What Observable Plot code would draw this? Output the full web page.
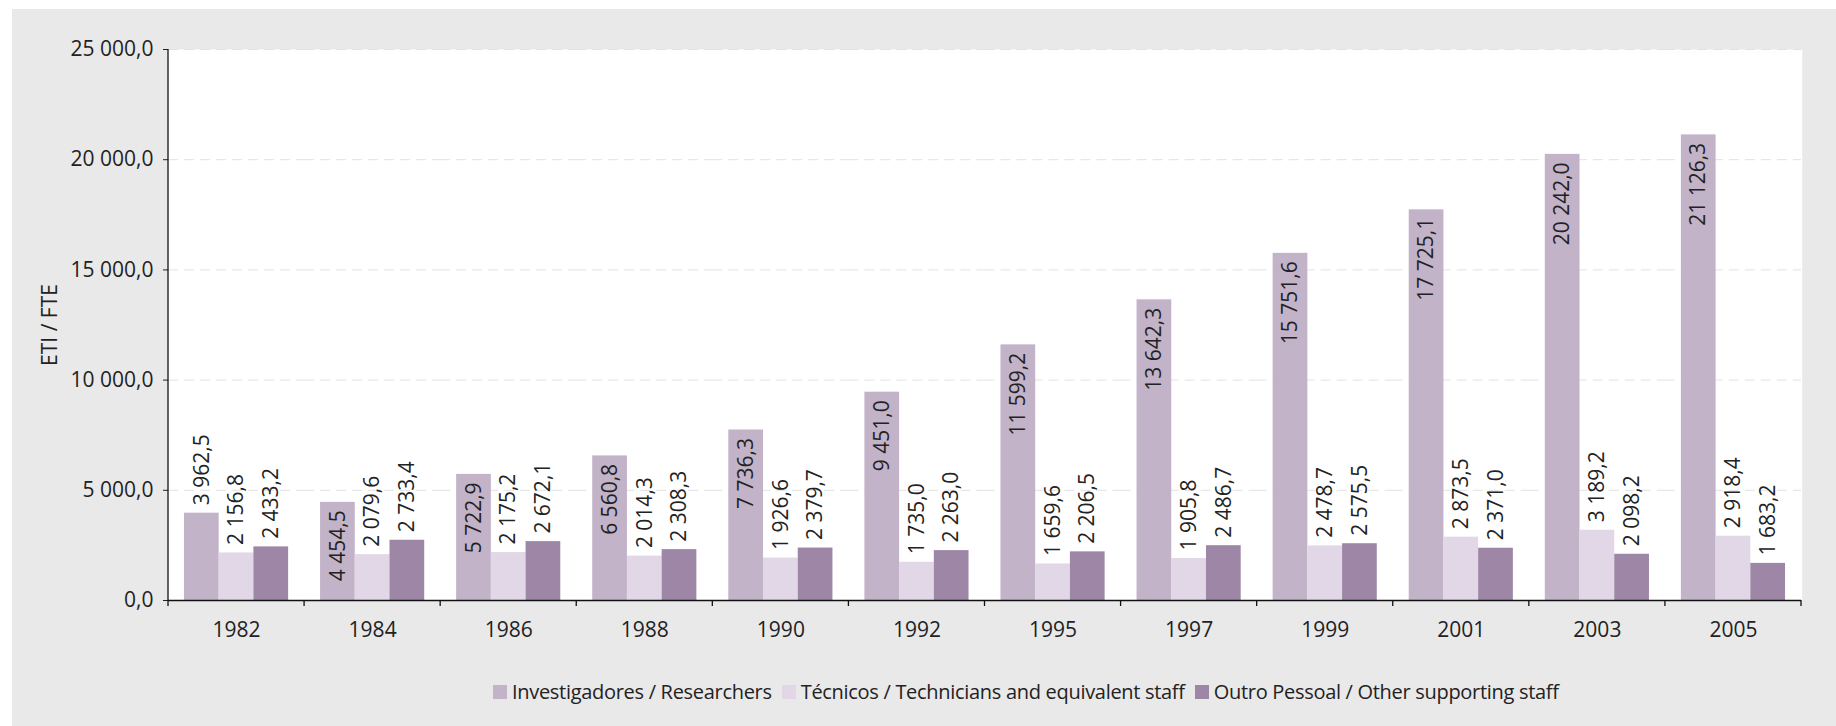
<!DOCTYPE html>
<html>
<head>
<meta charset="utf-8">
<script src="https://cdn.jsdelivr.net/npm/d3@7"></script>
<script src="https://cdn.jsdelivr.net/npm/@observablehq/plot@0.6"></script>
<style>
  html, body { margin: 0; padding: 0; background: #ffffff; }
  body { width: 1836px; height: 726px; position: relative; overflow: hidden; font-family: "Open Sans", sans-serif; }
  #panel { position: absolute; left: 12px; top: 9px; right: 0; bottom: 0; background: #e9e9e9; }
  #chart { position: absolute; left: 0; top: 0; }
  #chart svg { overflow: visible; }
  #legend { position: absolute; left: 493px; top: 678px; display: flex; align-items: center; font-size: 20px; color: #222; letter-spacing: -0.3px; white-space: nowrap; }
  #legend .item { display: flex; align-items: center; margin-right: 10px; }
  #legend .sw { width: 14px; height: 14px; margin-right: 5px; }
</style>
</head>
<body>
<div id="panel"></div>
<div id="chart"></div>
<div id="legend"></div>
<script>
const years = ["1982","1984","1986","1988","1990","1992","1995","1997","1999","2001","2003","2005"];
const seriesNames = [
  "Investigadores / Researchers",
  "Técnicos / Technicians and equivalent staff",
  "Outro Pessoal / Other supporting staff"
];
const researchers = [3962.5, 4454.5, 5722.9, 6560.8, 7736.3, 9451.0, 11599.2, 13642.3, 15751.6, 17725.1, 20242.0, 21126.3];
const technicians = [2156.8, 2079.6, 2175.2, 2014.3, 1926.6, 1735.0, 1659.6, 1905.8, 2478.7, 2873.5, 3189.2, 2918.4];
const otherStaff  = [2433.2, 2733.4, 2672.1, 2308.3, 2379.7, 2263.0, 2206.5, 2486.7, 2575.5, 2371.0, 2098.2, 1683.2];
const yTicks = [0, 5000, 10000, 15000, 20000, 25000];
const colors = ["#c3b3c9", "#e2d7e6", "#9e86a6"];

const seriesValues = [researchers, technicians, otherStaff];
const data = [];
years.forEach((y, i) => {
  seriesNames.forEach((s, k) => data.push({year: y, series: s, value: seriesValues[k][i]}));
});

const locale = d3.formatLocale({decimal: ",", thousands: " ", grouping: [3], currency: ["", ""]});
const fmt = locale.format(",.1f");

const insideLabel = d => d.series === seriesNames[0] && d.value >= 4000;

const chart = Plot.plot({
  width: 1836,
  height: 660,
  marginLeft: 168,
  marginRight: 35,
  marginTop: 49,
  marginBottom: 60,
  style: {fontFamily: "'Open Sans', sans-serif", color: "#222", background: "transparent"},
  fx: {domain: years, padding: 0, round: false},
  x: {domain: seriesNames, paddingInner: 0, paddingOuter: 0.46, round: false, axis: null},
  y: {domain: [0, 25000], ticks: yTicks},
  color: {domain: seriesNames, range: colors},
  marks: [
    Plot.frame({fill: "white", stroke: "none", insetLeft: -0.75, insetRight: -0.75}),
    Plot.gridY(yTicks.filter(t => t > 0), {stroke: "#e2e2e2", strokeOpacity: 1, strokeDasharray: "10,6"}),
    Plot.barY(data, {fx: "year", x: "series", y: "value", fill: "series"}),
    Plot.ruleY([0], {stroke: "#111", strokeWidth: 1.3}),
    Plot.text(data.filter(d => !insideLabel(d)), {
      fx: "year", x: "series", y: "value", text: d => fmt(d.value),
      rotate: -90, textAnchor: "start", lineAnchor: "middle", dy: -8, fontSize: 21, fill: "#222"
    }),
    Plot.text(data.filter(insideLabel), {
      fx: "year", x: "series", y: "value", text: d => fmt(d.value),
      rotate: -90, textAnchor: "end", lineAnchor: "middle", dy: 8, fontSize: 21, fill: "#222"
    }),
    Plot.axisY(yTicks, {
      tickFormat: fmt, tickSize: 5, tickPadding: 10, fontSize: 21,
      label: "ETI / FTE", labelAnchor: "center", labelArrow: "none", labelOffset: 126
    }),
    Plot.axisFx({anchor: "bottom", tickSize: 0, tickPadding: 22, fontSize: 21, label: null})
  ]
});

document.getElementById("chart").appendChild(chart);

// axis line and category boundary ticks, positioned from the library's scales
const fxS = chart.scale("fx");
const yS = chart.scale("y");
const svg = d3.select(chart);
const edges = years.map(d => fxS.apply(d));
edges.push(fxS.apply(years[years.length - 1]) + fxS.bandwidth);
const y0 = yS.apply(0), yTop = yS.apply(25000);
const g = svg.append("g").attr("stroke", "#111").attr("stroke-width", 1.3);
g.append("line").attr("x1", edges[0]).attr("x2", edges[0]).attr("y1", yTop).attr("y2", y0);
edges.forEach(x => g.append("line").attr("x1", x).attr("x2", x).attr("y1", y0).attr("y2", y0 + 6));

// legend
const legend = document.getElementById("legend");
seriesNames.forEach((s, k) => {
  const item = document.createElement("div");
  item.className = "item";
  const sw = document.createElement("div");
  sw.className = "sw";
  sw.style.background = colors[k];
  const tx = document.createElement("span");
  tx.textContent = s;
  item.appendChild(sw);
  item.appendChild(tx);
  legend.appendChild(item);
});
</script>
</body>
</html>
